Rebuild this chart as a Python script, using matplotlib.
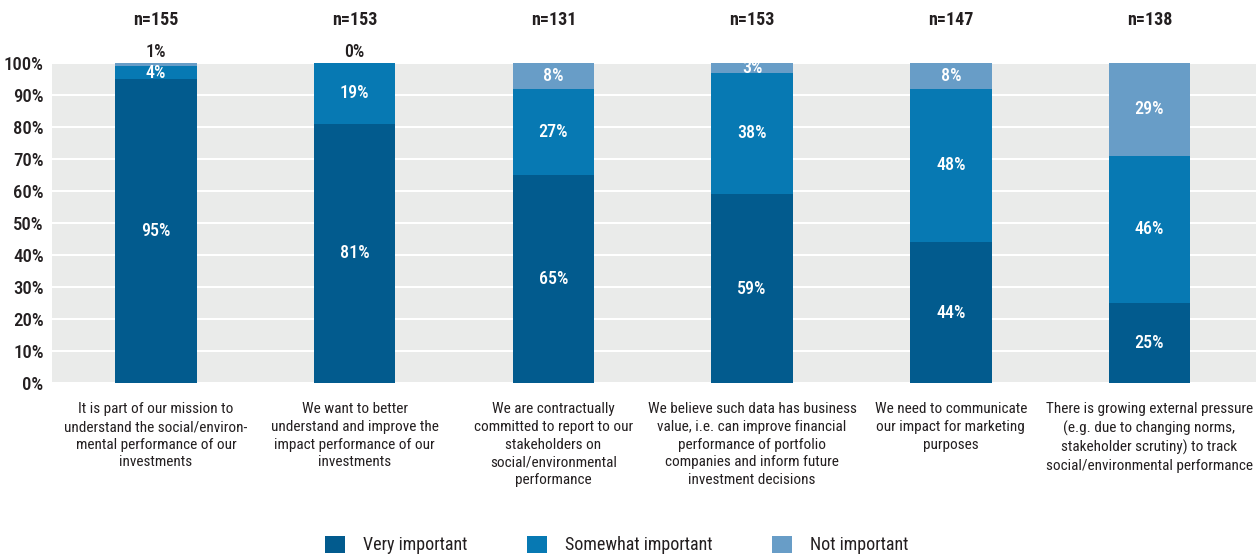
import matplotlib
matplotlib.use("Agg")
import matplotlib.pyplot as plt
from matplotlib.patches import Patch
import numpy as np

plt.rcParams['font.family'] = ['Roboto Condensed', 'DejaVu Sans']

categories = [
    "It is part of our mission to\nunderstand the social/environ-\nmental performance of our\ninvestments",
    "We want to better\nunderstand and improve the\nimpact performance of our\ninvestments",
    "We are contractually\ncommitted to report to our\nstakeholders on\nsocial/environmental\nperformance",
    "We believe such data has business\nvalue, i.e. can improve financial\nperformance of portfolio\ncompanies and inform future\ninvestment decisions",
    "We need to communicate\nour impact for marketing\npurposes",
    "There is growing external pressure\n(e.g. due to changing norms,\nstakeholder scrutiny) to track\nsocial/environmental performance",
]
n_labels = ["n=155", "n=153", "n=131", "n=153", "n=147", "n=138"]
very_important = [95, 81, 65, 59, 44, 25]
somewhat_important = [4, 19, 27, 38, 48, 46]
not_important = [1, 0, 8, 3, 8, 29]
series_names = ["Very important", "Somewhat important", "Not important"]
colors = ["#025b8e", "#0779b3", "#689dc7"]
ink = "#231f20"

fig = plt.figure(figsize=(12.56, 5.58), dpi=100)
ax = fig.add_axes([52/1256, 1-383/558, 1-52/1256, 320/558])
ax.set_facecolor("#eaebea")

x = np.arange(len(categories))
width = 0.41
series = [very_important, somewhat_important, not_important]
bottom = np.zeros(len(categories))
for vals, col, name in zip(series, colors, series_names):
    vals = np.array(vals, dtype=float)
    ax.bar(x, vals, width, bottom=bottom, color=col, label=name, zorder=3)
    for i, v in enumerate(vals):
        if name == "Not important" and v < 3:
            ax.annotate(f"{int(v)}%", xy=(x[i], 100), xytext=(0, 8),
                        textcoords="offset points", ha="center", va="center",
                        fontsize=13, fontweight="medium", color=ink,
                        annotation_clip=False)
        else:
            ax.text(x[i], bottom[i] + v/2, f"{int(v)}%", ha="center", va="center",
                    color="white", fontsize=13, fontweight="medium", zorder=4)
    bottom += vals

for i, nl in enumerate(n_labels):
    ax.annotate(nl, xy=(x[i], 100), xytext=(0, 31), textcoords="offset points",
                ha="center", va="center", fontsize=13, fontweight="bold",
                color=ink, annotation_clip=False)

ax.set_ylim(0, 100)
ax.set_xlim(-0.523, 5.536)
ax.set_yticks(np.arange(0, 101, 10))
ax.set_yticklabels([f"{t}%" for t in range(0, 101, 10)], fontsize=13.5,
                   fontweight="medium", color=ink)
ax.yaxis.grid(True, color="white", linewidth=1.5, zorder=1)
ax.set_axisbelow(True)
ax.tick_params(axis="y", length=0, pad=6)
ax.tick_params(axis="x", length=0, pad=14)
ax.set_xticks(x)
ax.set_xticklabels(categories, fontsize=11, color=ink, linespacing=1.33, va="top")
for s in ax.spines.values():
    s.set_visible(False)

handles = [Patch(facecolor=c, edgecolor="none") for c in colors]
fig.legend(handles, series_names, loc="center", bbox_to_anchor=(617/1256, 1-545/558),
           ncol=3, frameon=False, fontsize=13, handlelength=1.1, handleheight=1.1,
           columnspacing=3.3, handletextpad=1.0, labelcolor=ink)

fig.savefig("out.png", dpi=100)
